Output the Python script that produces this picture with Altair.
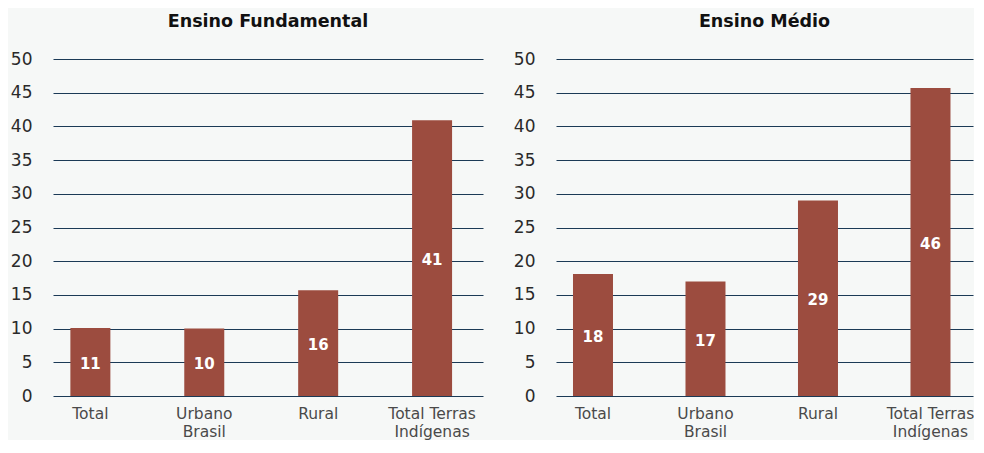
import altair as alt
import pandas as pd

categories = ["Total", "Urbano|Brasil", "Rural", "Total Terras|Indígenas"]
fund_values = [10.1, 10.0, 15.7, 40.9]
fund_labels = ["11", "10", "16", "41"]
medio_values = [18.1, 17.0, 29.0, 45.7]
medio_labels = ["18", "17", "29", "46"]
y_ticks = list(range(0, 51, 5))

FONT = "DejaVu Sans"
BAR = "#9c4c3f"
GRID = "#1b3a56"


def panel(title, values, labels, width, pad_inner, pad_outer, align):
    df = pd.DataFrame({"cat": categories, "val": values, "lab": labels})
    xscale = alt.Scale(paddingInner=pad_inner, paddingOuter=pad_outer, align=align)
    xaxis = alt.Axis(
        title=None,
        labelAngle=0,
        labelExpr="split(datum.label, '|')",
        labelPadding=10,
        labelFontSize=15.5,
        labelFont=FONT,
        labelColor="#4a4a4a",
        labelLineHeight=18,
        domain=False,
        ticks=False,
        grid=False,
    )
    yscale = alt.Scale(domain=[0, 50], nice=False)
    yaxis = alt.Axis(
        title=None,
        values=y_ticks,
        labelOverlap=False,
        domain=False,
        ticks=False,
        grid=True,
        gridColor=GRID,
        gridWidth=1,
        gridOpacity=1,
        labelPadding=21,
        labelFontSize=17,
        labelFont=FONT,
        labelColor="#2a2a2a",
    )
    bars = alt.Chart(df).mark_bar(color=BAR, size=40).encode(
        x=alt.X("cat:N", sort=categories, scale=xscale, axis=xaxis),
        y=alt.Y("val:Q", scale=yscale, axis=yaxis),
    )
    text = (
        alt.Chart(df)
        .transform_calculate(mid="datum.val / 2")
        .mark_text(color="white", font=FONT, fontSize=15, fontWeight="bold", baseline="middle", dy=2)
        .encode(
            x=alt.X("cat:N", sort=categories, scale=xscale, axis=xaxis),
            y=alt.Y("mid:Q", scale=yscale, axis=yaxis),
            text="lab:N",
        )
    )
    return alt.layer(bars, text).properties(
        width=width,
        height=337,
        title=alt.TitleParams(title, fontSize=17.5, font=FONT, fontWeight="bold", color="#111111", offset=20, anchor="middle"),
    )


chart = (
    alt.hconcat(
        panel("Ensino Fundamental", fund_values, fund_labels, 430, 0.65, 0.2126, 0.36),
        panel("Ensino Médio", medio_values, medio_labels, 417, 0.6444, 0.1756, 0.43),
        spacing=30,
    )
    .properties(padding={"left": 2, "top": 4, "right": 0, "bottom": 0}, background="#f6f8f7")
    .configure_view(stroke=None)
)

chart.save("out.html", embed_options={"renderer": "svg", "actions": False})
